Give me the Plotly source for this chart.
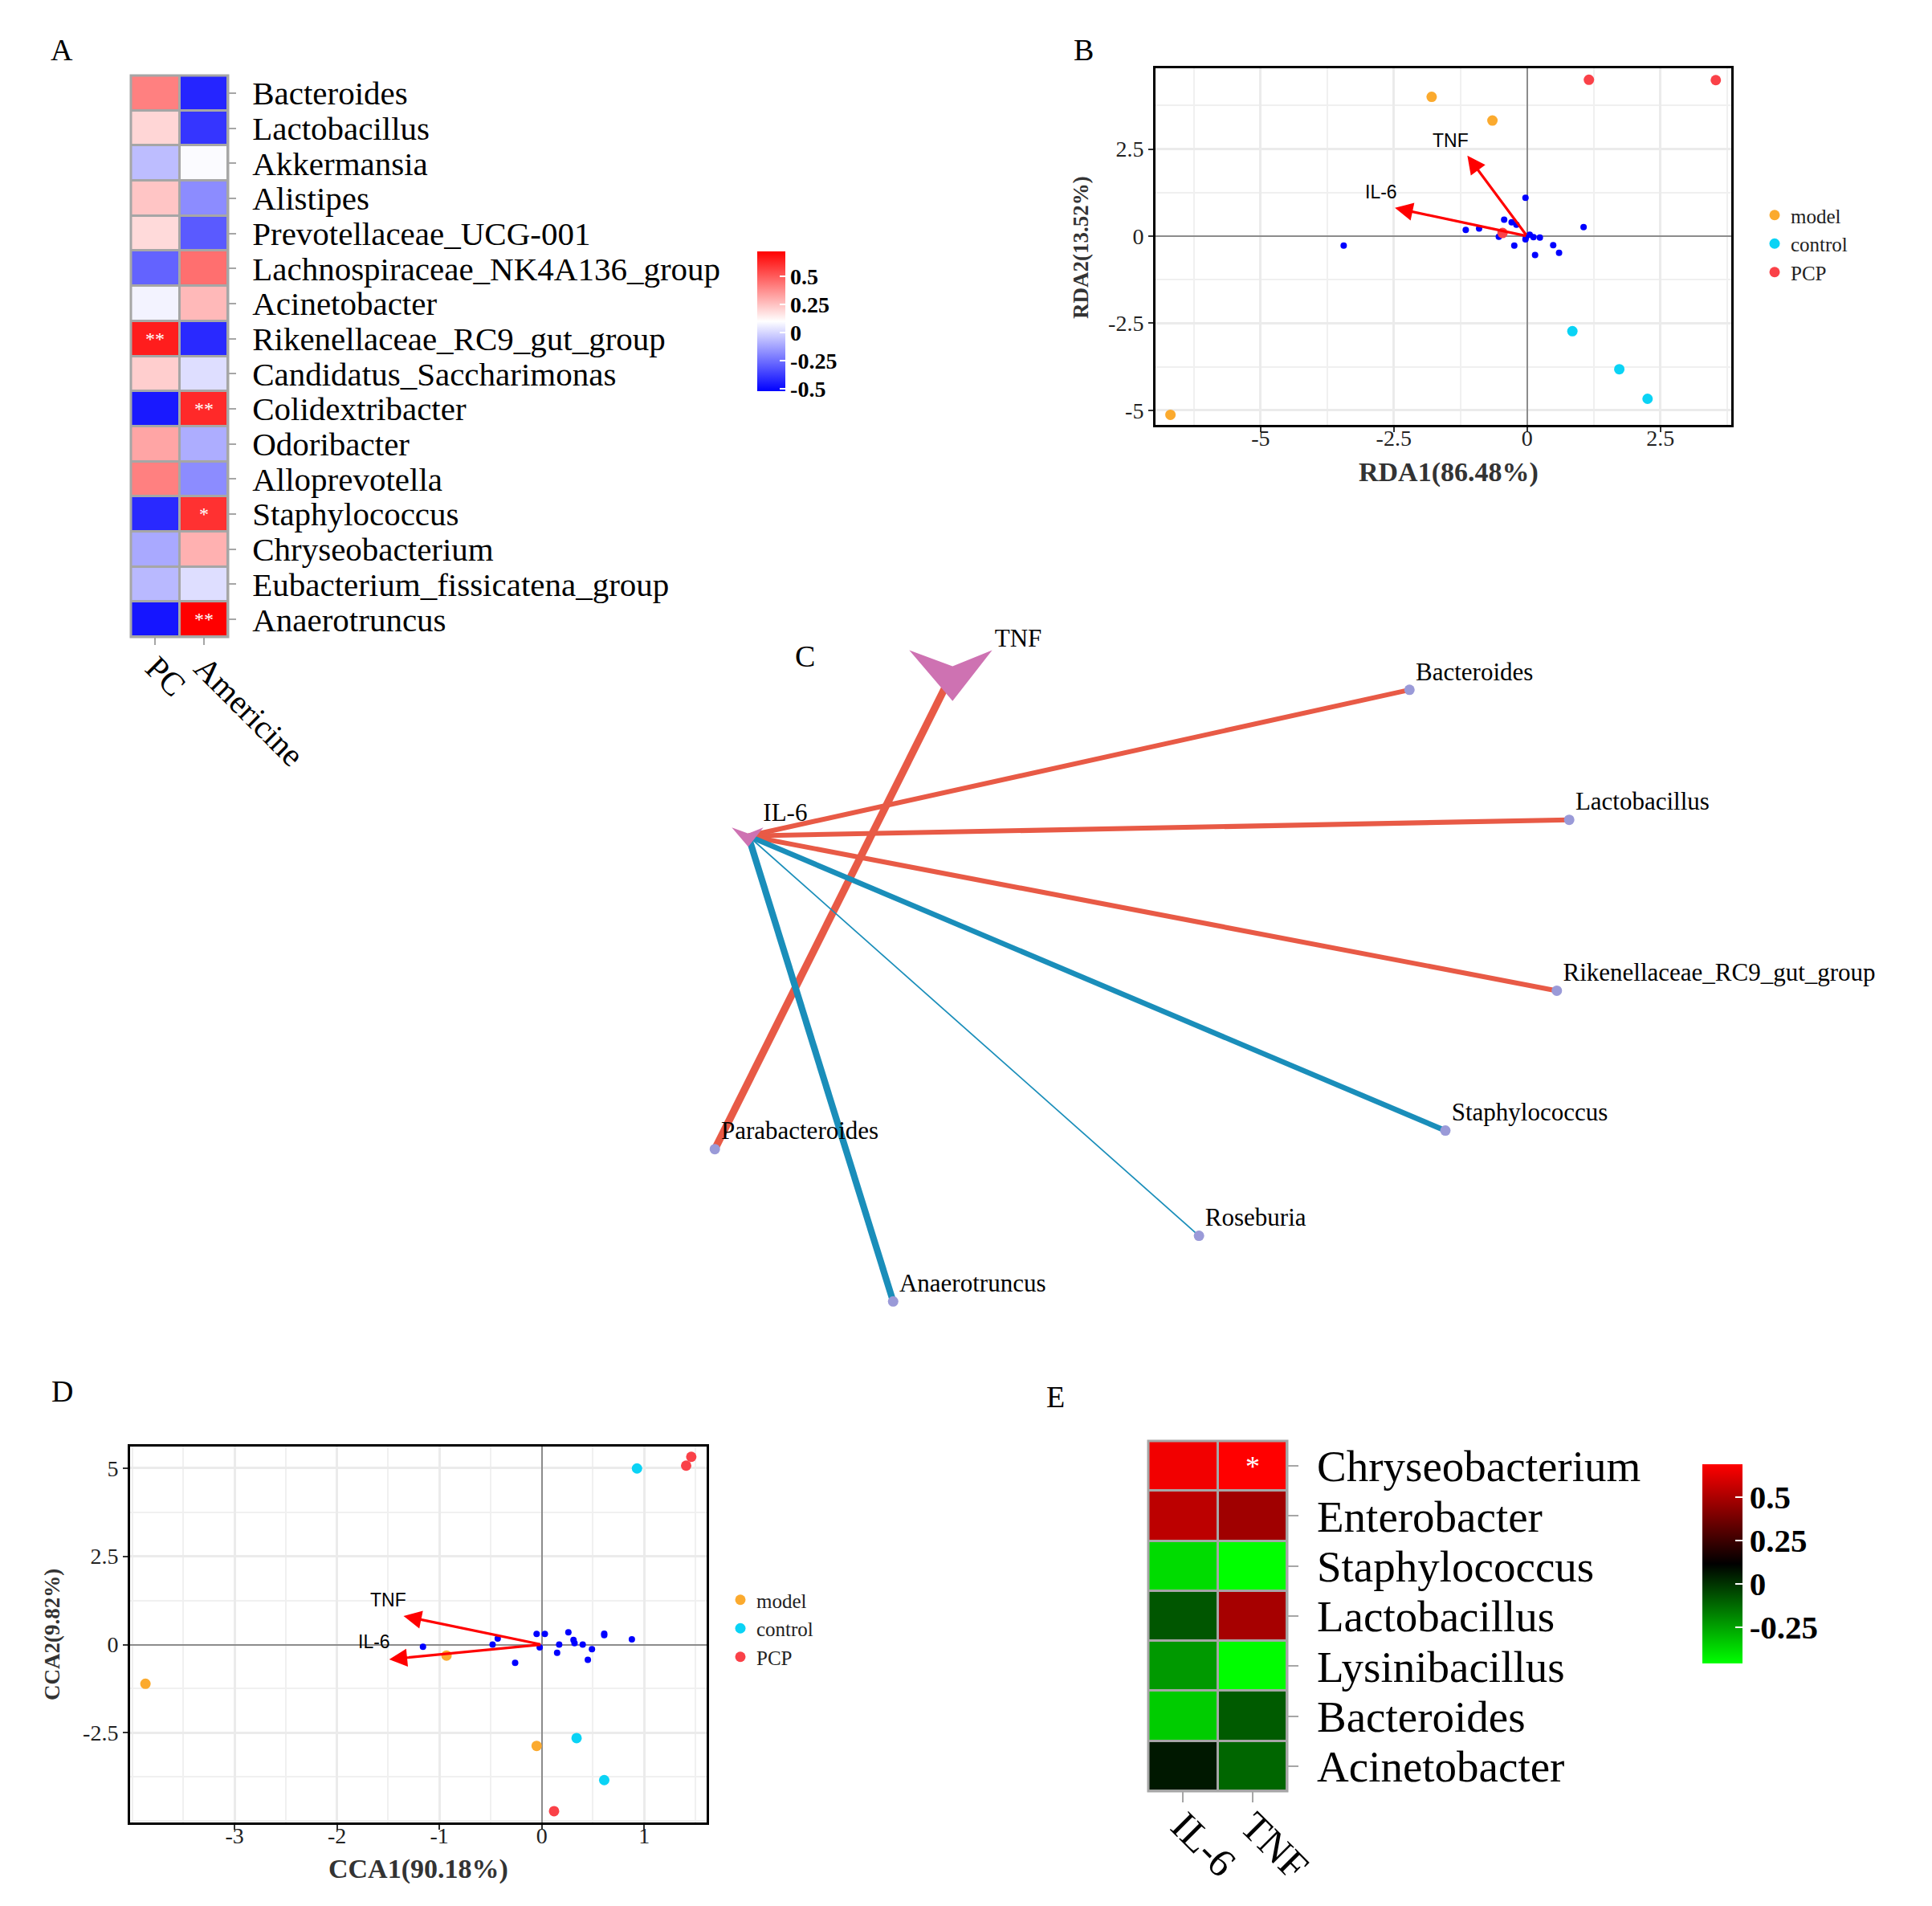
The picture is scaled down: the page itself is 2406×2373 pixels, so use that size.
import plotly.graph_objects as go

W, H = 2406, 2373
OFF = 8  # page margin compensation
SERIF = "Liberation Serif"
SANS = "Liberation Sans"


def fx(p):
    return (p - OFF) / W


def fy(p):
    return 1 - (p - OFF) / H


# ---------------- Panel A : correlation heatmap ----------------
a_genera = ["Bacteroides", "Lactobacillus", "Akkermansia", "Alistipes", "Prevotellaceae_UCG-001",
            "Lachnospiraceae_NK4A136_group", "Acinetobacter", "Rikenellaceae_RC9_gut_group",
            "Candidatus_Saccharimonas", "Colidextribacter", "Odoribacter", "Alloprevotella",
            "Staphylococcus", "Chryseobacterium", "Eubacterium_fissicatena_group", "Anaerotruncus"]
a_groups = ["PC", "Americine"]
a_pc = [0.41, 0.20, -0.06, 0.24, 0.19, -0.28, 0.07, 0.65, 0.22, -0.46, 0.32, 0.41, -0.42, -0.11, -0.07, -0.47]
a_am = [-0.43, -0.39, 0.09, -0.18, -0.30, 0.45, 0.27, -0.42, 0.02, 0.62, -0.10, -0.18, 0.60, 0.29, 0.02, 0.72]
a_sig_pc = ["", "", "", "", "", "", "", "**", "", "", "", "", "", "", "", ""]
a_sig_am = ["", "", "", "", "", "", "", "", "", "**", "", "", "*", "", "", "**"]
a_zmin, a_zmax = -0.52, 0.72
cbar_ticks = [-0.5, -0.25, 0, 0.25, 0.5]
cbar_ticktext = ["-0.5", "-0.25", "0", "0.25", "0.5"]

# ---------------- Panel B : RDA ----------------
b_model_x = [-1.79, -0.65, -6.69]
b_model_y = [4.00, 3.32, -5.13]
b_control_x = [0.85, 1.73, 2.26]
b_control_y = [-2.73, -3.82, -4.67]
b_pcp_x = [1.16, 3.54, -0.46]
b_pcp_y = [4.49, 4.48, 0.09]
b_sp_x = [-0.03, -0.43, -0.29, -0.20, -1.15, -0.90, -0.53, -3.44, -0.24, 0.05, 0.12, 0.24, -0.03, -0.02, 0.49, 0.15, 0.60, 1.06]
b_sp_y = [1.10, 0.47, 0.40, 0.33, 0.18, 0.22, -0.02, -0.27, -0.27, 0.04, -0.03, -0.04, -0.09, -0.03, -0.26, -0.54, -0.48, 0.26]
b_env = ["TNF", "IL-6"]
b_env_x = [-1.12, -2.48]
b_env_y = [2.31, 0.81]
b_xticks = [-5, -2.5, 0, 2.5]
b_yticks = [-5, -2.5, 0, 2.5]
b_xtitle, b_ytitle = "RDA1(86.48%)", "RDA2(13.52%)"

# ---------------- Panel C : network ----------------
c_nodes = ["TNF", "IL-6", "Bacteroides", "Lactobacillus", "Rikenellaceae_RC9_gut_group",
           "Staphylococcus", "Roseburia", "Anaerotruncus", "Parabacteroides"]
c_kind = ["factor", "factor", "genus", "genus", "genus", "genus", "genus", "genus", "genus"]
c_x = [769, 604, 1138, 1267, 1257, 1167, 968, 721, 577]
c_y = [543, 675, 557, 662, 800, 913, 998, 1051, 928]
c_factor_scale = {"TNF": 1.0, "IL-6": 0.38}
c_edge_src = ["TNF", "IL-6", "IL-6", "IL-6", "IL-6", "IL-6", "IL-6"]
c_edge_dst = ["Parabacteroides", "Bacteroides", "Lactobacillus", "Rikenellaceae_RC9_gut_group",
              "Staphylococcus", "Roseburia", "Anaerotruncus"]
c_edge_r = [0.80, 0.68, 0.68, 0.68, -0.70, -0.52, -0.76]

# ---------------- Panel D : CCA ----------------
d_model_x = [-3.87, -0.93, -0.05]
d_model_y = [-1.11, -0.31, -2.87]
d_control_x = [0.93, 0.34, 0.61]
d_control_y = [4.99, -2.65, -3.84]
d_pcp_x = [1.46, 1.41, 0.12]
d_pcp_y = [5.32, 5.07, -4.72]
d_sp_x = [-1.16, -0.43, -0.48, -0.26, -0.05, 0.03, -0.02, 0.26, 0.17, 0.15, 0.31, 0.32, 0.40, 0.49, 0.45, 0.61, 0.61, 0.88]
d_sp_y = [-0.06, 0.17, 0.00, -0.52, 0.30, 0.30, -0.08, 0.35, 0.00, -0.23, 0.13, 0.04, 0.00, -0.13, -0.43, 0.27, 0.31, 0.15]
d_env = ["TNF", "IL-6"]
d_env_x = [-1.35, -1.49]
d_env_y = [0.81, -0.42]
d_xticks = [-3, -2, -1, 0, 1]
d_yticks = [-2.5, 0, 2.5, 5]
d_xtitle, d_ytitle = "CCA1(90.18%)", "CCA2(9.82%)"

# ---------------- Panel E : correlation heatmap ----------------
e_genera = ["Chryseobacterium", "Enterobacter", "Staphylococcus", "Lactobacillus",
            "Lysinibacillus", "Bacteroides", "Acinetobacter"]
e_factors = ["IL-6", "TNF"]
e_il6 = [0.66, 0.54, -0.38, -0.08, -0.23, -0.345, 0.06]
e_tnf = [0.69, 0.475, -0.46, 0.49, -0.455, -0.09, -0.115]
e_sig_il6 = ["", "", "", "", "", "", ""]
e_sig_tnf = ["*", "", "", "", "", "", ""]
e_zmin, e_zmax = -0.46, 0.69
e_cbar_ticks = [-0.25, 0, 0.25, 0.5]
e_cbar_ticktext = ["-0.25", "0", "0.25", "0.5"]

# ---------------- styles ----------------
COL_MODEL = "#FBAA2E"
COL_CONTROL = "#0AD3F5"
COL_PCP = "#FA4148"
COL_SP = "#0000FF"
GRID = "#EBEBEB"
EDGE_POS = "#E85A46"
EDGE_NEG = "#1A8EBA"
NODE_GENUS = "#9A9AD8"
NODE_FACTOR = "#CE72B2"
VEE = [(-35, -18), (0, -5), (32, -18), (0, 23), (-35, -18)]
LABEL_OFF = {"TNF": (34, -26), "IL-6": (12, -17)}
GENUS_LABEL_OFF = (5, -13)
TITLE_FONT_X = dict(family=SERIF, size=34, color="#333333", weight="bold")
TITLE_FONT_Y = dict(family=SERIF, size=27, color="#333333", weight="bold")

fig = go.Figure()

# ---- Panel A heatmap ----
fig.add_trace(go.Heatmap(
    z=[[p, a] for p, a in zip(a_pc, a_am)], x=a_groups, y=a_genera,
    text=[[s1, s2] for s1, s2 in zip(a_sig_pc, a_sig_am)], texttemplate="%{text}",
    textfont=dict(color="white", size=24, family=SERIF),
    colorscale=[[0, "#0000FF"], [0.5, "#FFFFFF"], [1, "#FF0000"]],
    zmin=a_zmin, zmax=a_zmax, xgap=3, ygap=3, xaxis="x", yaxis="y", hoverinfo="skip",
    colorbar=dict(x=fx(943), xanchor="left", y=fy(400), yanchor="middle",
                  len=174 / H, lenmode="fraction", thickness=35, outlinewidth=0,
                  xpad=0, ypad=0, tickvals=cbar_ticks, ticktext=cbar_ticktext,
                  ticks="inside", tickcolor="white", ticklen=7, tickwidth=2,
                  tickfont=dict(family=SERIF, size=28, color="black", weight="bold")),
))

# ---- Panel E heatmap ----
fig.add_trace(go.Heatmap(
    z=[[i, t] for i, t in zip(e_il6, e_tnf)], x=e_factors, y=e_genera,
    text=[[s1, s2] for s1, s2 in zip(e_sig_il6, e_sig_tnf)], texttemplate="%{text}",
    textfont=dict(color="white", size=36, family=SERIF),
    colorscale=[[0, "#00FF00"], [0.5, "#000000"], [1, "#FF0000"]],
    zmin=e_zmin, zmax=e_zmax, xgap=3, ygap=3, xaxis="x5", yaxis="y5", hoverinfo="skip",
    colorbar=dict(x=fx(2120), xanchor="left", y=fy(1947), yanchor="middle",
                  len=248 / H, lenmode="fraction", thickness=50, outlinewidth=0,
                  xpad=0, ypad=0, tickvals=e_cbar_ticks, ticktext=e_cbar_ticktext,
                  ticks="inside", tickcolor="white", ticklen=9, tickwidth=2,
                  tickfont=dict(family=SERIF, size=41, color="black", weight="bold")),
))


# ---- Ordination panels (B and D) ----
def ordination(xa, ya, legend, model, control, pcp, sp):
    fig.add_trace(go.Scatter(x=sp[0], y=sp[1], mode="markers", xaxis=xa, yaxis=ya,
                             marker=dict(color=COL_SP, size=8), showlegend=False, hoverinfo="skip"))
    for name, col, pts in [("model", COL_MODEL, model), ("control", COL_CONTROL, control), ("PCP", COL_PCP, pcp)]:
        fig.add_trace(go.Scatter(x=pts[0], y=pts[1], mode="markers", name=name, xaxis=xa, yaxis=ya,
                                 marker=dict(color=col, size=13), legend=legend, hoverinfo="skip"))


ordination("x2", "y2", "legend", (b_model_x, b_model_y), (b_control_x, b_control_y),
           (b_pcp_x, b_pcp_y), (b_sp_x, b_sp_y))
ordination("x4", "y4", "legend2", (d_model_x, d_model_y), (d_control_x, d_control_y),
           (d_pcp_x, d_pcp_y), (d_sp_x, d_sp_y))

annotations = []


def env_arrows(xr, yr, names, ex, ey, shifts):
    for n, x, y, (dx, dy) in zip(names, ex, ey, shifts):
        annotations.append(dict(x=x, y=y, ax=0, ay=0, xref=xr, yref=yr, axref=xr, ayref=yr,
                                showarrow=True, arrowhead=2, arrowsize=1.4, arrowwidth=3.2,
                                arrowcolor="#FF0000", text=""))
        annotations.append(dict(x=x, y=y, xref=xr, yref=yr, text=n, showarrow=False,
                                xanchor="center", yanchor="bottom", xshift=dx, yshift=dy,
                                font=dict(family=SANS, size=23, color="black")))


env_arrows("x2", "y2", b_env, b_env_x, b_env_y, [(-21, 4), (-17, 5)])
env_arrows("x4", "y4", d_env, d_env_x, d_env_y, [(-19, 5), (-19, 7)])

# axis titles (placed as text beside the panels)
for txt, x, y, ang, fnt in [(b_xtitle, 1804, 588, 0, TITLE_FONT_X), (b_ytitle, 1346, 308, -90, TITLE_FONT_Y),
                            (d_xtitle, 521, 2327, 0, TITLE_FONT_X), (d_ytitle, 65, 2035, -90, TITLE_FONT_Y)]:
    annotations.append(dict(x=fx(x), y=fy(y), xref="paper", yref="paper", text=txt, showarrow=False,
                            textangle=ang, xanchor="center", yanchor="middle", font=fnt))

# ---- Panel C network ----
pos = {n: (x, y) for n, x, y in zip(c_nodes, c_x, c_y)}
for s, t, r in zip(c_edge_src, c_edge_dst, c_edge_r):
    (sx, sy), (tx, ty) = pos[s], pos[t]
    fig.add_trace(go.Scatter(x=[sx, tx], y=[sy, ty], mode="lines", xaxis="x3", yaxis="y3",
                             line=dict(color=EDGE_POS if r > 0 else EDGE_NEG, width=1.2 + (abs(r) - 0.5) * 27),
                             showlegend=False, hoverinfo="skip"))
g_idx = [i for i, k in enumerate(c_kind) if k == "genus"]
fig.add_trace(go.Scatter(
    x=[c_x[i] for i in g_idx], y=[c_y[i] for i in g_idx], mode="markers", xaxis="x3", yaxis="y3",
    marker=dict(color=NODE_GENUS, size=13), showlegend=False, hoverinfo="skip"))
fig.add_trace(go.Scatter(
    x=[c_x[i] + GENUS_LABEL_OFF[0] for i in g_idx], y=[c_y[i] + GENUS_LABEL_OFF[1] for i in g_idx],
    text=[c_nodes[i] for i in g_idx], mode="text", textposition="middle right", cliponaxis=False,
    xaxis="x3", yaxis="y3", textfont=dict(family=SERIF, size=31, color="black"),
    showlegend=False, hoverinfo="skip"))
for i, k in enumerate(c_kind):
    if k != "factor":
        continue
    n = c_nodes[i]
    sc = c_factor_scale[n]
    fig.add_trace(go.Scatter(
        x=[c_x[i] + sc * dx for dx, dy in VEE], y=[c_y[i] + sc * dy for dx, dy in VEE],
        mode="lines", fill="toself", fillcolor=NODE_FACTOR, line=dict(width=0, color=NODE_FACTOR),
        xaxis="x3", yaxis="y3", showlegend=False, hoverinfo="skip"))
    ox, oy = LABEL_OFF[n]
    fig.add_trace(go.Scatter(
        x=[c_x[i] + ox], y=[c_y[i] + oy], text=[n], mode="text", textposition="middle right",
        cliponaxis=False, xaxis="x3", yaxis="y3", textfont=dict(family=SERIF, size=31, color="black"),
        showlegend=False, hoverinfo="skip"))

# ---- panel letters ----
for letter, x, y in [("A", 77, 62), ("B", 1349, 62), ("C", 1002, 817), ("D", 77, 1732), ("E", 1314, 1739)]:
    annotations.append(dict(x=fx(x), y=fy(y), xref="paper", yref="paper", text=letter, showarrow=False,
                            xanchor="center", yanchor="middle", font=dict(family=SERIF, size=38, color="black")))

shapes = []
for xa, ya in [("x", "y"), ("x5", "y5")]:
    shapes.append(dict(type="rect", xref=xa + " domain", yref=ya + " domain", x0=0, x1=1, y0=0, y1=1,
                       fillcolor="#A6A6A6", line=dict(width=0), layer="below"))
    shapes.append(dict(type="rect", xref=xa + " domain", yref=ya + " domain", x0=0, x1=1, y0=0, y1=1,
                       fillcolor="rgba(0,0,0,0)", line=dict(width=3, color="#A6A6A6"), layer="above"))


def heat_axes(xdom, ydom, anchor_x, anchor_y, cats_x, cats_y, fsize, xfsize, tlen, standoff, xstandoff):
    xa = dict(domain=xdom, anchor=anchor_y, showgrid=False, zeroline=False, showline=False,
              automargin=False, tickmode="array", tickvals=cats_x, ticklabelstandoff=xstandoff,
              ticks="outside", ticklen=tlen, tickwidth=2, tickcolor="#A6A6A6", tickangle=45,
              tickfont=dict(family=SERIF, size=xfsize, color="black"))
    ya = dict(domain=ydom, anchor=anchor_x, side="right", autorange="reversed", showgrid=False,
              automargin=False, tickmode="array", tickvals=cats_y,
              zeroline=False, showline=False, ticks="outside", ticklen=tlen, tickwidth=2,
              tickcolor="#A6A6A6", ticklabelstandoff=standoff,
              tickfont=dict(family=SERIF, size=fsize, color="black"))
    return xa, ya


def ord_axes(xdom, ydom, anchor_x, anchor_y, xr, yr, xt, yt, xminor, yminor):
    common = dict(showgrid=True, gridcolor=GRID, gridwidth=3, zeroline=True, zerolinecolor="#8C8C8C",
                  zerolinewidth=2, showline=True, linecolor="black", linewidth=3, mirror=True,
                  automargin=False, ticks="outside", ticklen=6, tickwidth=2, tickcolor="#333333",
                  tickfont=dict(family=SERIF, size=28, color="#222222"))
    xa = dict(domain=xdom, anchor=anchor_y, range=xr, tickmode="array", tickvals=xt,
              ticktext=[("%g" % v) for v in xt], ticklabelstandoff=-17,
              minor=dict(tickmode="linear", tick0=0, dtick=xminor, showgrid=True, gridcolor="#F0F0F0",
                         gridwidth=1.5, ticks=""), **common)
    ya = dict(domain=ydom, anchor=anchor_x, range=yr, tickmode="array", tickvals=yt,
              ticktext=[("%g" % v) for v in yt],
              minor=dict(tickmode="linear", tick0=0, dtick=yminor, showgrid=True, gridcolor="#F0F0F0",
                         gridwidth=1.5, ticks=""), **common)
    return xa, ya


xa1, ya1 = heat_axes([fx(163), fx(284)], [fy(793), fy(94)], "x", "y", a_groups, a_genera, 41, 41, 9, 12, -12)
xa5, ya5 = heat_axes([fx(1430), fx(1603)], [fy(2230), fy(1794)], "x5", "y5", e_factors, e_genera, 55, 50, 13, 12, -20)
xa2, ya2 = ord_axes([fx(1439), fx(2156)], [fy(529), fy(85)], "x2", "y2", [-6.97, 3.83], [-5.42, 4.82],
                    b_xticks, b_yticks, 1.25, 1.25)
xa4, ya4 = ord_axes([fx(162), fx(880)], [fy(2269), fy(1801)], "x4", "y4", [-4.02, 1.61], [-5.04, 5.61],
                    d_xticks, d_yticks, 0.5, 1.25)
xa3 = dict(domain=[fx(864), fx(2406)], anchor="y3", range=[560, 1560], visible=False, automargin=False)
ya3 = dict(domain=[fy(1665), fy(771)], anchor="x3", range=[1080, 500], visible=False, automargin=False)

fig.update_layout(
    template="none",
    width=W, height=H, margin=dict(l=0, r=0, t=0, b=0, pad=0, autoexpand=False),
    paper_bgcolor="white", plot_bgcolor="white",
    xaxis=xa1, yaxis=ya1, xaxis2=xa2, yaxis2=ya2, xaxis3=xa3, yaxis3=ya3,
    xaxis4=xa4, yaxis4=ya4, xaxis5=xa5, yaxis5=ya5,
    legend=dict(x=fx(2190), y=fy(245), xanchor="left", yanchor="top", bgcolor="rgba(0,0,0,0)",
                font=dict(family=SERIF, size=25, color="#222222"), tracegroupgap=0),
    legend2=dict(x=fx(902), y=fy(1969), xanchor="left", yanchor="top", bgcolor="rgba(0,0,0,0)",
                 font=dict(family=SERIF, size=25, color="#222222"), tracegroupgap=0),
    annotations=annotations, shapes=shapes, showlegend=True,
)

fig.write_html("out.html")
